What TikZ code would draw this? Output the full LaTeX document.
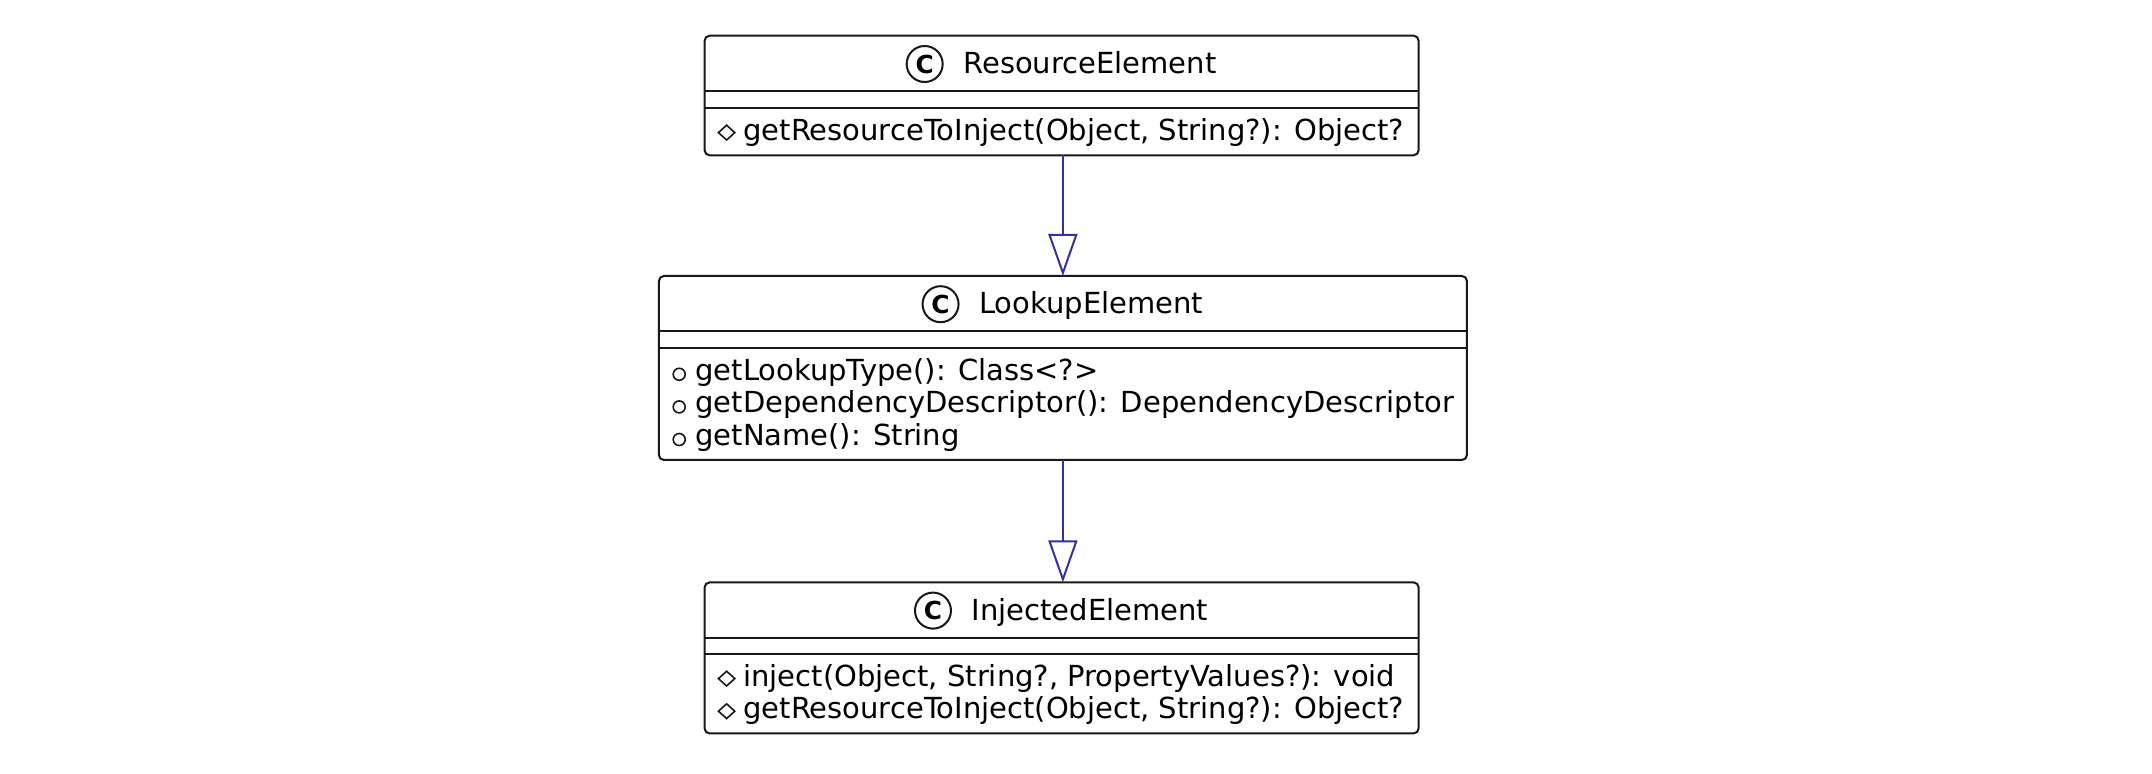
\documentclass[tikz,border=0pt]{standalone}
\usepackage{fontspec}
\setmainfont{DejaVu Sans}
\usetikzlibrary{arrows.meta,shapes.geometric}
\definecolor{border}{HTML}{181818}
\definecolor{arrowblue}{HTML}{3131A3}
\begin{document}
\begin{tikzpicture}[x=1pt,y=-1pt,
  classbox/.style={draw=border, line width=1pt, rounded corners=2.5pt, fill=white, inner sep=0pt, outer sep=0pt},
  sepline/.style={draw=border, line width=1pt},
  titletext/.style={anchor=base, inner sep=0pt, font=\fontsize{14.5}{16}\selectfont, text=black},
  memtext/.style={anchor=base west, inner sep=0pt, font=\fontsize{14.5}{16}\selectfont, text=black},
  cmark/.style={circle, draw=border, line width=1pt, minimum size=18pt, inner sep=0pt, font=\fontsize{12.4}{12.4}\selectfont\bfseries},
  pubmark/.style={circle, draw=border, line width=0.8pt, minimum size=6pt, inner sep=0pt},
  protmark/.style={diamond, draw=border, line width=0.8pt, minimum width=8.5pt, minimum height=7.7pt, inner sep=0pt},
  inherit/.style={draw=arrowblue, line width=1pt, -{Triangle[open, length=21pt, width=14.5pt]}}
]
\useasboundingbox[fill=white] (0,0) rectangle (1076,387);

% ResourceElement
\node[classbox, minimum width=357pt, minimum height=59.8pt] (res) at (530.8,47.75) {};
\draw[sepline] (352.3,45.7) -- (709.3,45.7);
\draw[sepline] (352.3,53.85) -- (709.3,53.85);
\node[titletext] (restitle) at (544.95,36.7) {ResourceElement};
\node[cmark] (resc) at ([xshift=-19.15pt, yshift=4.7pt]restitle.base west) {C};
\node[memtext] (resm1) at (371.5,70.15) {getResourceToInject(Object, String?): Object?};
\node[protmark] (resp1) at (363.3,66.3) {};

% LookupElement
\node[classbox, minimum width=404pt, minimum height=92pt] (look) at (531.45,184) {};
\draw[sepline] (329.45,165.7) -- (733.45,165.7);
\draw[sepline] (329.45,173.85) -- (733.45,173.85);
\node[titletext] (looktitle) at (545.6,156.8) {LookupElement};
\node[cmark] (lookc) at ([xshift=-19.15pt, yshift=4.7pt]looktitle.base west) {C};
\node[memtext] (lookm1) at (347.5,190.15) {getLookupType(): Class<?>};
\node[memtext] (lookm2) at (347.5,206.45) {getDependencyDescriptor(): DependencyDescriptor};
\node[memtext] (lookm3) at (347.5,222.75) {getName(): String};
\node[pubmark] (lookp1) at (339.6,187.15) {};
\node[pubmark] (lookp2) at (339.6,203.45) {};
\node[pubmark] (lookp3) at (339.6,219.75) {};

% InjectedElement
\node[classbox, minimum width=357pt, minimum height=75.5pt] (inj) at (530.8,328.95) {};
\draw[sepline] (352.3,319) -- (709.3,319);
\draw[sepline] (352.3,326.8) -- (709.3,326.8);
\node[titletext] (injtitle) at (544.95,310) {InjectedElement};
\node[cmark] (injc) at ([xshift=-19.15pt, yshift=4.7pt]injtitle.base west) {C};
\node[memtext] (injm1) at (371.5,343.1) {inject(Object, String?, PropertyValues?): void};
\node[memtext] (injm2) at (371.5,359.4) {getResourceToInject(Object, String?): Object?};
\node[protmark] (injp1) at (363.3,339.3) {};
\node[protmark] (injp2) at (363.3,355.6) {};

% inheritance arrows
\draw[inherit] (look.north |- res.south) -- (look.north);
\draw[inherit] (look.south) -- (inj.north -| look.south);
\end{tikzpicture}
\end{document}
